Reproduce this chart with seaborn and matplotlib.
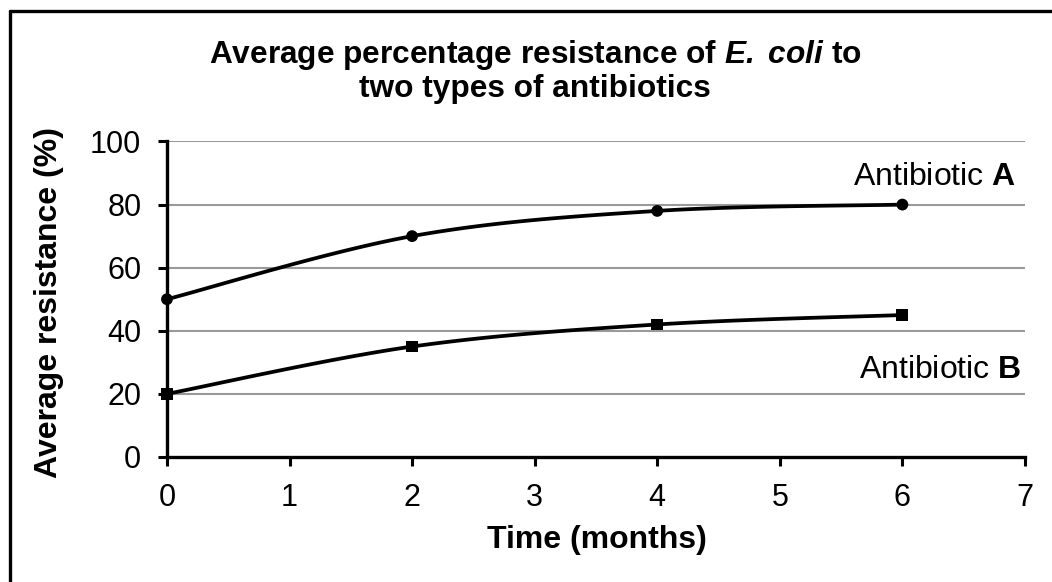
import numpy as np
import pandas as pd
import matplotlib
matplotlib.use("Agg")
import matplotlib.pyplot as plt
from matplotlib.lines import Line2D
import seaborn as sns

# Data
months = [0, 2, 4, 6]
resist_a = [50, 70, 78, 80]
resist_b = [20, 35, 42, 45]
x_ticks = [0, 1, 2, 3, 4, 5, 6, 7]
y_ticks = [0, 20, 40, 60, 80, 100]

sns.set_style("white")
plt.rcParams['font.family'] = ['Liberation Sans', 'DejaVu Sans']
plt.rcParams['text.color'] = 'black'
plt.rcParams['mathtext.fontset'] = 'custom'
plt.rcParams['mathtext.rm'] = 'Liberation Sans'
plt.rcParams['mathtext.it'] = 'Liberation Sans:italic'
plt.rcParams['mathtext.bf'] = 'Liberation Sans:bold'
plt.rcParams['mathtext.bfit'] = 'Liberation Sans:bold:italic'


def smooth(xs, ys, n=40):
    # Excel-style smoothed line: cubic bezier with 1/6 tangent control points
    p = np.column_stack([xs, ys]).astype(float)
    p = np.vstack([p[0], p, p[-1]])
    t = np.linspace(0, 1, n)[:, None]
    out = []
    for i in range(1, len(p) - 2):
        p0, p3 = p[i], p[i + 1]
        c1 = p0 + (p[i + 1] - p[i - 1]) / 6
        c2 = p3 - (p[i + 2] - p[i]) / 6
        seg = ((1 - t) ** 3) * p0 + 3 * ((1 - t) ** 2) * t * c1 + 3 * (1 - t) * t ** 2 * c2 + t ** 3 * p3
        out.append(seg if i == 1 else seg[1:])
    out = np.vstack(out)
    return out[:, 0], out[:, 1]


df = pd.DataFrame({
    'Time': months * 2,
    'Resistance': resist_a + resist_b,
    'Antibiotic': ['A'] * len(months) + ['B'] * len(months),
})

fig = plt.figure(figsize=(10.52, 5.82), dpi=100)
ax = fig.add_axes([0.1587, 0.2148, 0.8156, 0.5421])

for ys in (resist_a, resist_b):
    sx, sy = smooth(months, ys)
    sns.lineplot(x=sx, y=sy, sort=False, estimator=None, color='black',
                 linewidth=2.7, ax=ax, clip_on=False, zorder=3)

sns.scatterplot(data=df, x='Time', y='Resistance', style='Antibiotic',
                markers={'A': 'o', 'B': 's'}, color='black', s=72,
                edgecolor='black', linewidth=0, legend=False, ax=ax,
                clip_on=False, zorder=4)

ax.set_xlim(0, 7)
ax.set_ylim(0, 100)
ax.set_xticks(x_ticks)
ax.set_yticks(y_ticks)
ax.tick_params(axis='both', direction='out', length=6.5, width=2.2,
               bottom=True, left=True, color='black', labelsize=22,
               pad=12, labelcolor='black')
for side in ('top', 'right'):
    ax.spines[side].set_visible(False)
for side in ('left', 'bottom'):
    ax.spines[side].set_linewidth(2.4)
    ax.spines[side].set_color('black')
for yv in y_ticks[1:]:
    ax.axhline(yv, color='#999999', linewidth=1.5, zorder=1)

ax.set_xlabel('')
ax.set_ylabel('')
fig.text(49 / 1052, 1 - 302 / 582, 'Average resistance (%)', rotation=90,
         ha='center', va='center', fontsize=23, fontweight='bold')
fig.text(597 / 1052, 1 - 540 / 582, 'Time (months)', ha='center',
         va='center', fontsize=23, fontweight='bold')
fig.text(535 / 1052, 1 - 71 / 582,
         'Average percentage resistance of $\\mathbfit{E.}$ $\\mathbfit{coli}$ to\ntwo types of antibiotics',
         ha='center', va='center', fontsize=22.8, fontweight='bold',
         linespacing=1.08)

ax.text(6.93, 86.2, 'Antibiotic $\\mathbf{A}$', ha='right', va='baseline',
        fontsize=23)
ax.text(6.97, 25.0, 'Antibiotic $\\mathbf{B}$', ha='right', va='baseline',
        fontsize=23)

# partial frame around the chart area (top and left edges visible)
fig.add_artist(Line2D([10 / 1052, 10 / 1052], [0, 1 - 11 / 582],
                      transform=fig.transFigure, color='black', linewidth=2.4))
fig.add_artist(Line2D([10 / 1052, 1], [1 - 11 / 582, 1 - 11 / 582],
                      transform=fig.transFigure, color='black', linewidth=2.4))

fig.savefig('out.png', dpi=100)
